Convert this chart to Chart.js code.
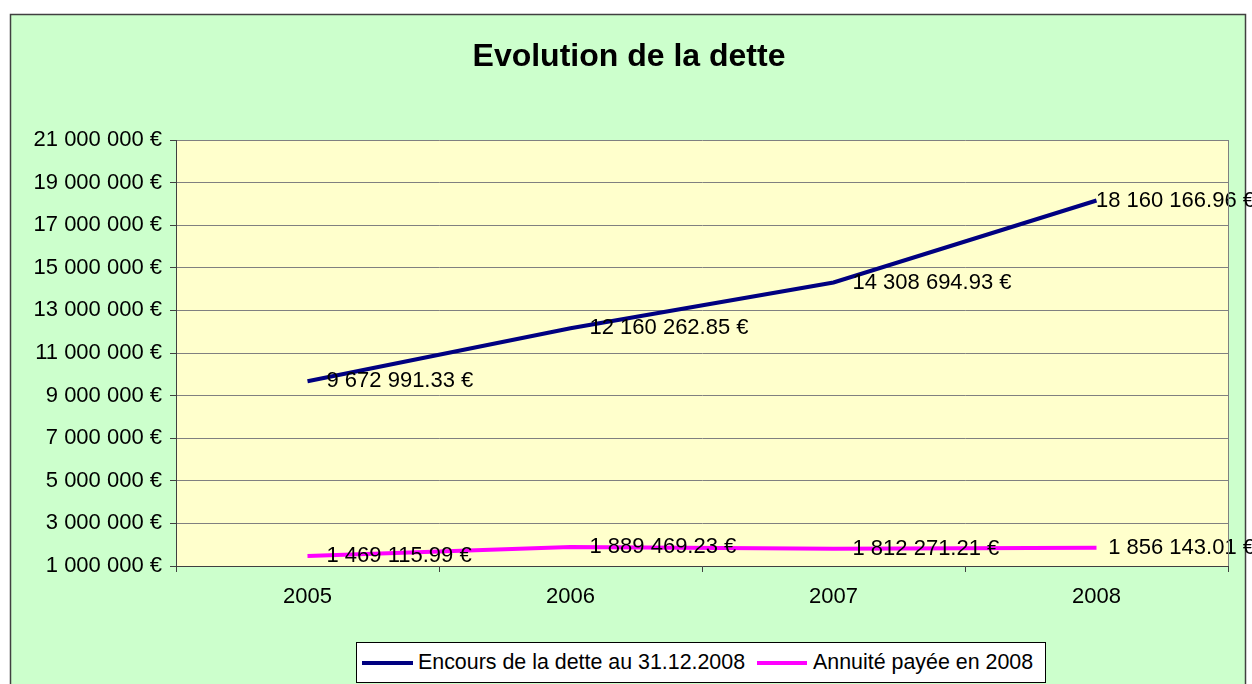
<!DOCTYPE html>
<html>
<head>
<meta charset="utf-8">
<script src="https://cdn.jsdelivr.net/npm/chart.js@4/dist/chart.umd.min.js"></script>
<style>
  html, body { margin: 0; padding: 0; background: #ffffff; }
  #wrap { position: relative; width: 1252px; height: 684px; overflow: hidden; }
  #legend {
    position: absolute; left: 356px; top: 642px; width: 690px; height: 41px;
    background: #ffffff; border: 1px solid #000000; box-sizing: border-box;
    font-family: "Liberation Sans", Arial, sans-serif; font-size: 21.4px; color: #000;
    display: flex; align-items: center; white-space: nowrap;
  }
  .item { display: flex; align-items: center; }
  .swatch { display: inline-block; height: 4px; }
</style>
</head>
<body>
<div id="wrap">
  <canvas id="c" width="1252" height="684"></canvas>
  <div id="legend"></div>
</div>
<script>
const chartTitle = "Evolution de la dette";
const categories = ["2005", "2006", "2007", "2008"];
const seriesNames = ["Encours de la dette au 31.12.2008", "Annuité payée en 2008"];
const encours = [9672991.33, 12160262.85, 14308694.93, 18160166.96];
const annuite = [1469115.99, 1889469.23, 1812271.21, 1856143.01];
const seriesColors = ["#000080", "#FF00FF"];
const yMin = 1000000, yMax = 21000000, yStep = 2000000;

const FONT = '"Liberation Sans", Arial, sans-serif';

function groupThousands(intStr) {
  return intStr.replace(/\B(?=(\d{3})+(?!\d))/g, " ");
}
function fmtTick(v) { return groupThousands(String(Math.round(v))) + " €"; }
function fmtLabel(v) {
  const s = v.toFixed(2).split(".");
  return groupThousands(s[0]) + "." + s[1] + " €";
}

// legend
const swatchStyle = [
  { ml: 5, w: 51, mr: 5 },
  { ml: 12, w: 50, mr: 6 }
];
const lg = document.getElementById('legend');
seriesNames.forEach((n, i) => {
  const it = document.createElement('span');
  it.className = 'item';
  const sw = document.createElement('span');
  sw.className = 'swatch';
  sw.style.background = seriesColors[i];
  sw.style.width = swatchStyle[i].w + 'px';
  sw.style.marginLeft = swatchStyle[i].ml + 'px';
  sw.style.marginRight = swatchStyle[i].mr + 'px';
  it.appendChild(sw);
  const t = document.createElement('span');
  t.textContent = n;
  it.appendChild(t);
  lg.appendChild(it);
});

const bgPlugin = {
  id: 'bg',
  beforeDraw(chart) {
    const ctx = chart.ctx, a = chart.chartArea;
    ctx.save();
    ctx.fillStyle = '#ffffff';
    ctx.fillRect(0, 0, chart.width, chart.height);
    ctx.fillStyle = '#CCFFCC';
    ctx.fillRect(10, 14, 1236, 700);
    ctx.strokeStyle = '#404040';
    ctx.lineWidth = 1.5;
    ctx.strokeRect(10.5, 14.5, 1235, 700);
    ctx.fillStyle = '#FFFFCC';
    ctx.fillRect(a.left, a.top, a.right - a.left, a.bottom - a.top);
    // title
    ctx.fillStyle = '#000000';
    ctx.font = 'bold 32px ' + FONT;
    ctx.textAlign = 'center';
    ctx.textBaseline = 'middle';
    ctx.fillText(chartTitle, 629, 57);
    ctx.restore();
  },
  afterDraw(chart) {
    const ctx = chart.ctx, a = chart.chartArea;
    ctx.save();
    ctx.strokeStyle = '#808080';
    ctx.lineWidth = 1;
    ctx.beginPath();
    ctx.moveTo(a.right + 0.5, a.top);
    ctx.lineTo(a.right + 0.5, a.bottom);
    ctx.stroke();
    ctx.restore();
  }
};

const labelPlugin = {
  id: 'dlabels',
  afterDatasetsDraw(chart) {
    const ctx = chart.ctx;
    ctx.save();
    ctx.font = '22px ' + FONT;
    ctx.fillStyle = '#000000';
    ctx.textBaseline = 'middle';
    ctx.textAlign = 'left';
    chart.data.datasets.forEach((ds, di) => {
      const meta = chart.getDatasetMeta(di);
      meta.data.forEach((pt, i) => {
        const txt = fmtLabel(ds.data[i]);
        const w = ctx.measureText(txt).width;
        const x = Math.min(pt.x + 19, 1255 - w);
        ctx.fillText(txt, x, pt.y);
      });
    });
    ctx.restore();
  }
};

new Chart(document.getElementById('c'), {
  type: 'line',
  data: {
    labels: categories,
    datasets: [
      { label: seriesNames[0], data: encours, borderColor: seriesColors[0], backgroundColor: seriesColors[0], borderWidth: 4, pointRadius: 0, tension: 0, fill: false },
      { label: seriesNames[1], data: annuite, borderColor: seriesColors[1], backgroundColor: seriesColors[1], borderWidth: 4, pointRadius: 0, tension: 0, fill: false }
    ]
  },
  options: {
    responsive: false,
    animation: false,
    layout: { padding: { left: 0, right: 24, top: 140, bottom: 0 } },
    plugins: {
      legend: { display: false },
      tooltip: { enabled: false },
      title: { display: false }
    },
    scales: {
      x: {
        offset: true,
        grid: { offset: true, drawOnChartArea: false, tickLength: 6, color: '#404040' },
        border: { color: '#404040', width: 1 },
        ticks: { color: '#000000', font: { family: FONT, size: 22 }, padding: 12, maxRotation: 0 },
        afterFit(scale) { scale.height = 118; }
      },
      y: {
        min: yMin, max: yMax,
        grid: { color: '#808080', tickLength: 6, tickColor: '#404040' },
        border: { color: '#404040', width: 1 },
        ticks: { stepSize: yStep, color: '#000000', font: { family: FONT, size: 22 }, padding: 8, callback: v => fmtTick(v) },
        afterFit(scale) { scale.width = 176; }
      }
    }
  },
  plugins: [bgPlugin, labelPlugin]
});
</script>
</body>
</html>
